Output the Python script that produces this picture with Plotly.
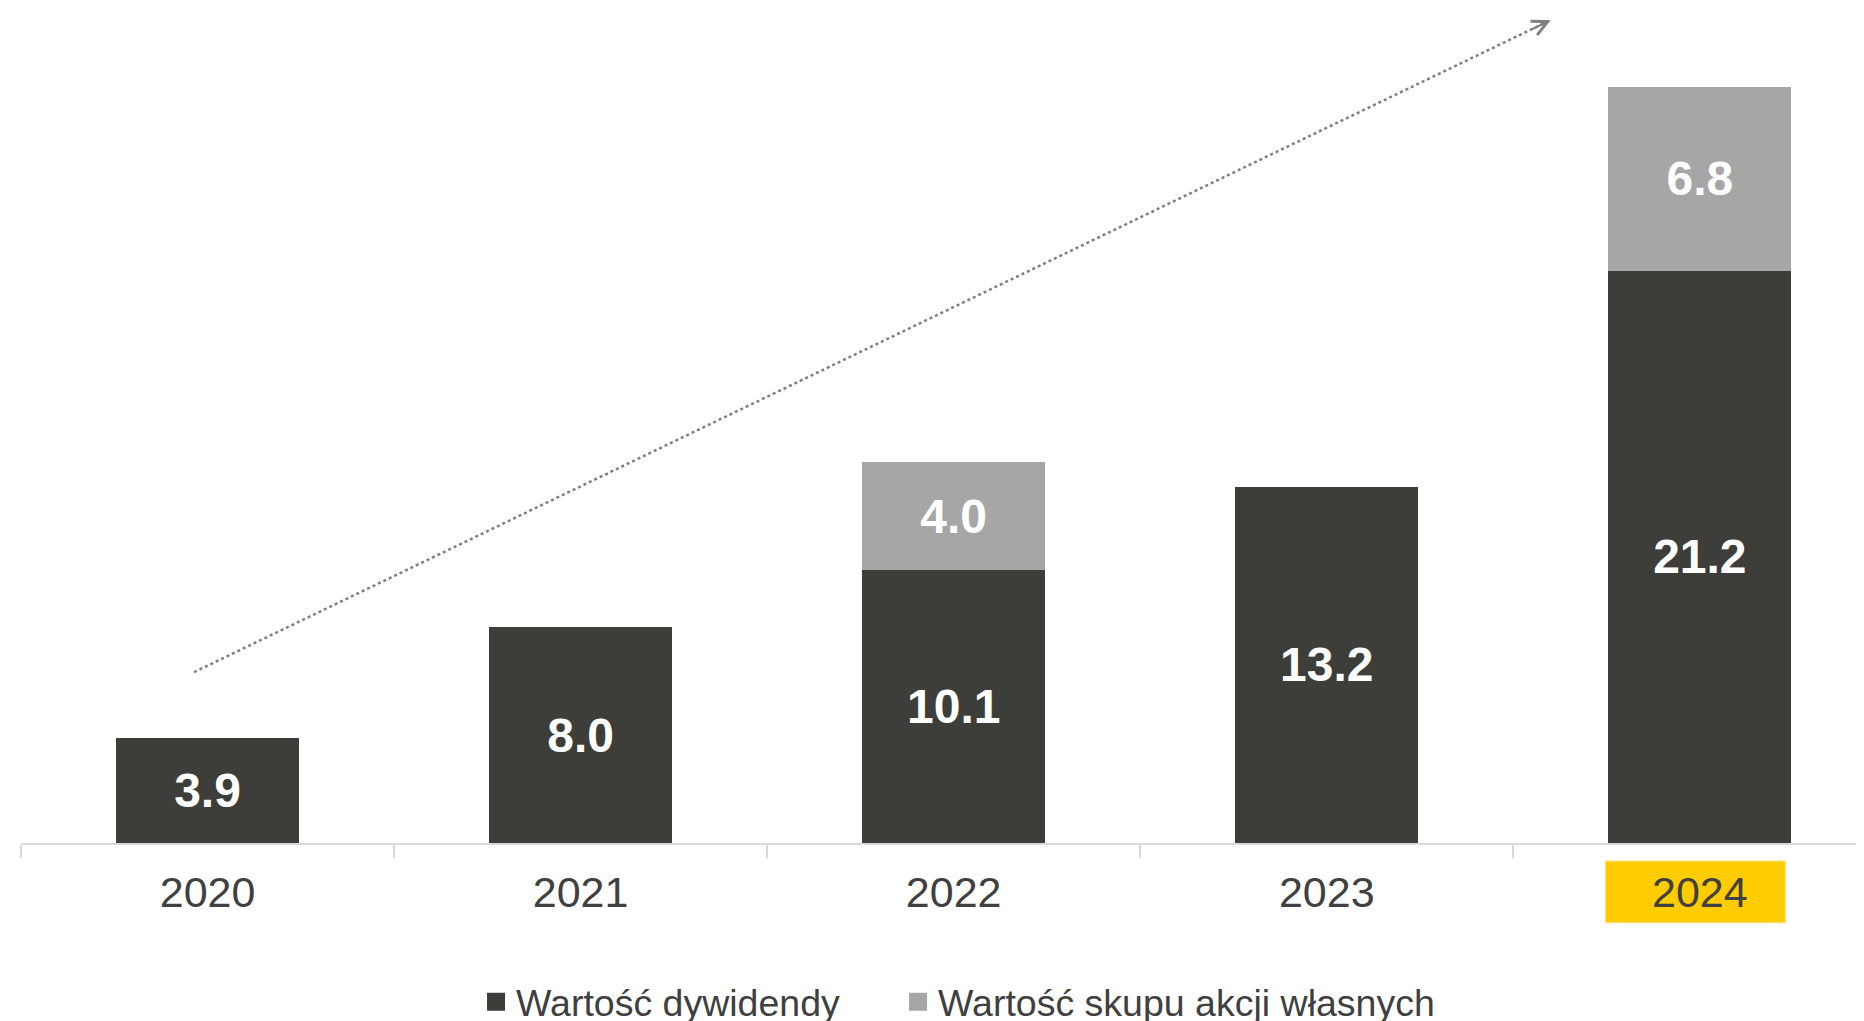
import plotly.graph_objects as go

years = ["2020", "2021", "2022", "2023", "2024"]
dividend = [3.9, 8.0, 10.1, 13.2, 21.2]
buyback = [None, None, 4.0, None, 6.8]
series_names = ["Wartość dywidendy", "Wartość skupu akcji własnych"]

DARK = "#3d3d39"
GRAY = "#a6a6a6"
TEXT = "#404040"
FONT = "Arial, Liberation Sans, sans-serif"

fig = go.Figure()
fig.add_trace(go.Bar(
    x=years, y=dividend, name=series_names[0], showlegend=False, legendgroup="d",
    marker=dict(color=DARK, line=dict(width=0)),
    texttemplate="%{y:.1f}", textposition="inside", insidetextanchor="middle",
    textfont=dict(family=FONT, size=48, color="white", weight="bold"),
    hoverinfo="skip",
))
fig.add_trace(go.Bar(
    x=years, y=buyback, name=series_names[1], showlegend=False, legendgroup="b",
    marker=dict(color=GRAY, line=dict(width=0)),
    texttemplate="%{y:.1f}", textposition="inside", insidetextanchor="middle",
    textfont=dict(family=FONT, size=48, color="white", weight="bold"),
    hoverinfo="skip",
))
# legend entries (square swatches), one legend box per entry
for nm, col, grp, lg in [(series_names[0], DARK, "d", "legend"), (series_names[1], GRAY, "b", "legend2")]:
    fig.add_trace(go.Scatter(
        x=[None], y=[None], mode="markers", name=nm, legendgroup=grp, legend=lg,
        marker=dict(symbol="square", size=16, color=col, line=dict(width=2, color=col)),
        hoverinfo="skip",
    ))

# dotted trend arrow
x0, y0, x1, y1 = -0.036, 6.33, 3.6, 30.48
fig.add_shape(type="line", xref="x", yref="y", x0=x0, y0=y0, x1=x1, y1=y1,
              line=dict(color="#7f7f7f", width=2.5, dash="dot"), layer="above")
fig.add_annotation(x=x1, y=y1, xref="x", yref="y", ax=-20, ay=9.6, showarrow=True,
                   arrowhead=5, arrowsize=1.5, arrowwidth=2, arrowcolor="#7f7f7f", text="")

# highlight behind 2024 label
fig.add_shape(type="rect", xref="x", yref="paper", x0=3.747, x1=4.229, y0=-0.0955, y1=-0.0216,
              fillcolor="#ffcc00", line=dict(color="#ffe27a", width=1), layer="below")

leg_common = dict(orientation="h", xanchor="left", y=-0.1904, yanchor="middle",
                  font=dict(size=37.5, color=TEXT, family=FONT),
                  itemclick=False, itemdoubleclick=False, bgcolor="rgba(0,0,0,0)")

fig.update_layout(
    barmode="stack", bargap=0.51,
    width=1864, height=1040,
    margin=dict(l=13, r=8, t=0, b=205),
    paper_bgcolor="white", plot_bgcolor="white",
    font=dict(family=FONT, color=TEXT),
    showlegend=True,
    legend=dict(x=0.2469, **leg_common),
    legend2=dict(x=0.4759, **leg_common),
    xaxis=dict(type="category", range=[-0.5, 4.44], showline=True, linecolor="#d9d9d9", linewidth=2,
               ticks="outside", tickson="boundaries", ticklen=13, tickcolor="#d9d9d9", tickwidth=2,
               ticklabelstandoff=10,
               tickfont=dict(size=43, color=TEXT, family=FONT), showgrid=False, zeroline=False,
               fixedrange=True),
    yaxis=dict(range=[0, 30.93], visible=False, fixedrange=True),
)

fig.write_html("out.html")
